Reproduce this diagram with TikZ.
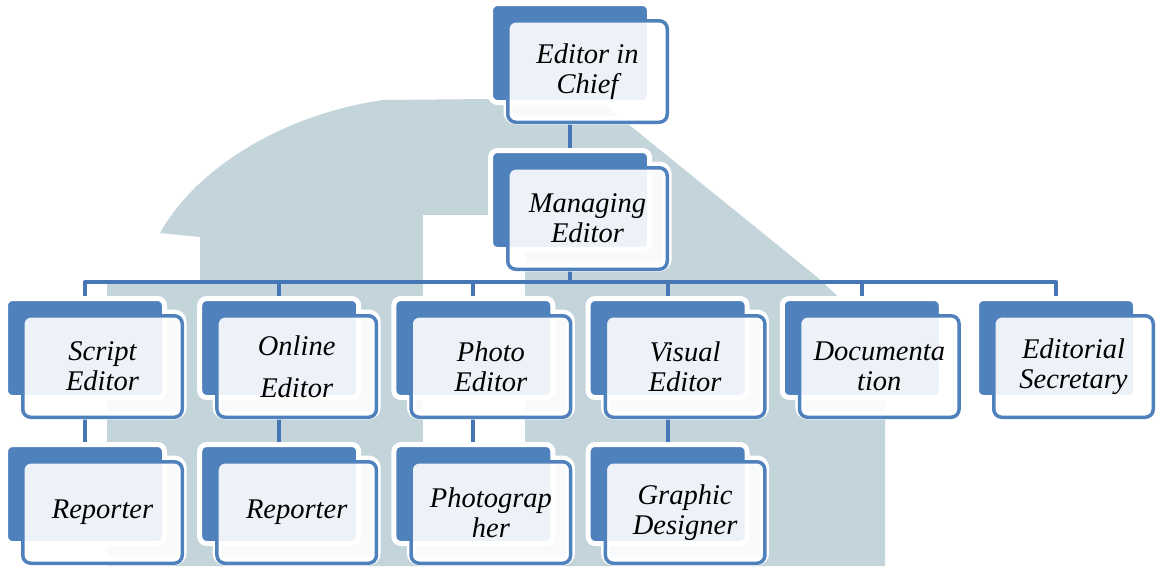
\documentclass[tikz,border=0pt]{standalone}
\usepackage{fontspec}
\setmainfont{Liberation Serif}[ItalicFont={Liberation Serif Italic}]
\definecolor{orgblue}{HTML}{4F81BD}
\definecolor{linkblue}{HTML}{4677B4}
\definecolor{wmgray}{HTML}{C3D4DB}
\pgfdeclarelayer{wm}
\pgfdeclarelayer{links}
\pgfsetlayers{wm,links,main}
\tikzset{
  backbox/.style={rectangle, rounded corners=7pt, fill=orgblue, draw=white,
    line width=5pt, minimum width=159pt, minimum height=99pt,
    inner sep=0pt, outer sep=0pt},
  fronthalo/.style={rectangle, rounded corners=8pt, draw=white,
    line width=8.5pt, minimum width=159.5pt, minimum height=101.5pt,
    inner sep=0pt, outer sep=0pt},
  frontbox/.style={rectangle, rounded corners=8pt, draw=orgblue,
    line width=3.5pt, fill=white, fill opacity=0.9, text opacity=1,
    minimum width=159.5pt, minimum height=101.5pt,
    inner sep=0pt, outer sep=0pt, align=center,
    font=\fontsize{28.5}{30}\selectfont\itshape},
  link/.style={draw=linkblue, line width=4pt}
}
% one unit: back panel at (#2,#3) top-left, front card over it
\newcommand\orgunit[4]{%
  \node[fronthalo] (#1-h) at (#2+94.5,#3+63.5) {};
  \node[backbox] (#1-b) at (#2+77,#3+47) {};
  \node[frontbox] (#1) at (#2+94.5,#3+63.5+2) {#4};
}
\begin{document}
\begin{tikzpicture}[x=1pt,y=-1pt]
  \useasboundingbox (0,0) rectangle (1160,566);

  % page and faded logo behind the chart
  \begin{pgfonlayer}{wm}
    \fill[white] (0,0) rectangle (1160,566);
    \fill[wmgray] (107,566) -- (107,280) -- (200,280) -- (200,237) -- (160,233)
      .. controls (195,170) and (280,115) .. (383,100) -- (596,98)
      -- (817,277) -- (885,340) -- (885,566) -- cycle;
    \fill[white] (423,215) rectangle (525,445);
  \end{pgfonlayer}

  \orgunit{eic}{493}{6}{Editor in\\Chief}
  \orgunit{me}{493}{153}{Managing\\Editor}

  \orgunit{sc}{8}{301}{Script\\Editor}
  \orgunit{oe}{202.2}{301}{Online\\[12pt]Editor}
  \orgunit{pe}{396.4}{301}{Photo\\Editor}
  \orgunit{ve}{590.6}{301}{Visual\\Editor}
  \orgunit{do}{784.8}{301}{Documenta\\tion}
  \orgunit{es}{979}{301}{Editorial\\Secretary}

  \orgunit{r1}{8}{447}{Reporter}
  \orgunit{r2}{202.2}{447}{Reporter}
  \orgunit{ph}{396.4}{447}{Photograp\\her}
  \orgunit{gd}{590.6}{447}{Graphic\\Designer}

  \coordinate (bus) at (570,282);
  \begin{pgfonlayer}{links}
    \draw[link] (eic-b.center |- eic.south) -- (me-b.north);
    \draw[link] (me-b.center |- me.south) -- (bus);
    \draw[link, line join=round] (sc-b.north) |- (bus) -| (es-b.north);
    \foreach \n in {oe,pe,ve,do}
      \draw[link] (\n-b.north) -- (\n-b.north |- bus);
    \draw[link] (sc-b.center |- sc.south) -- (r1-b.north);
    \draw[link] (oe-b.center |- oe.south) -- (r2-b.north);
    \draw[link] (pe-b.center |- pe.south) -- (ph-b.north);
    \draw[link] (ve-b.center |- ve.south) -- (gd-b.north);
  \end{pgfonlayer}
\end{tikzpicture}
\end{document}
